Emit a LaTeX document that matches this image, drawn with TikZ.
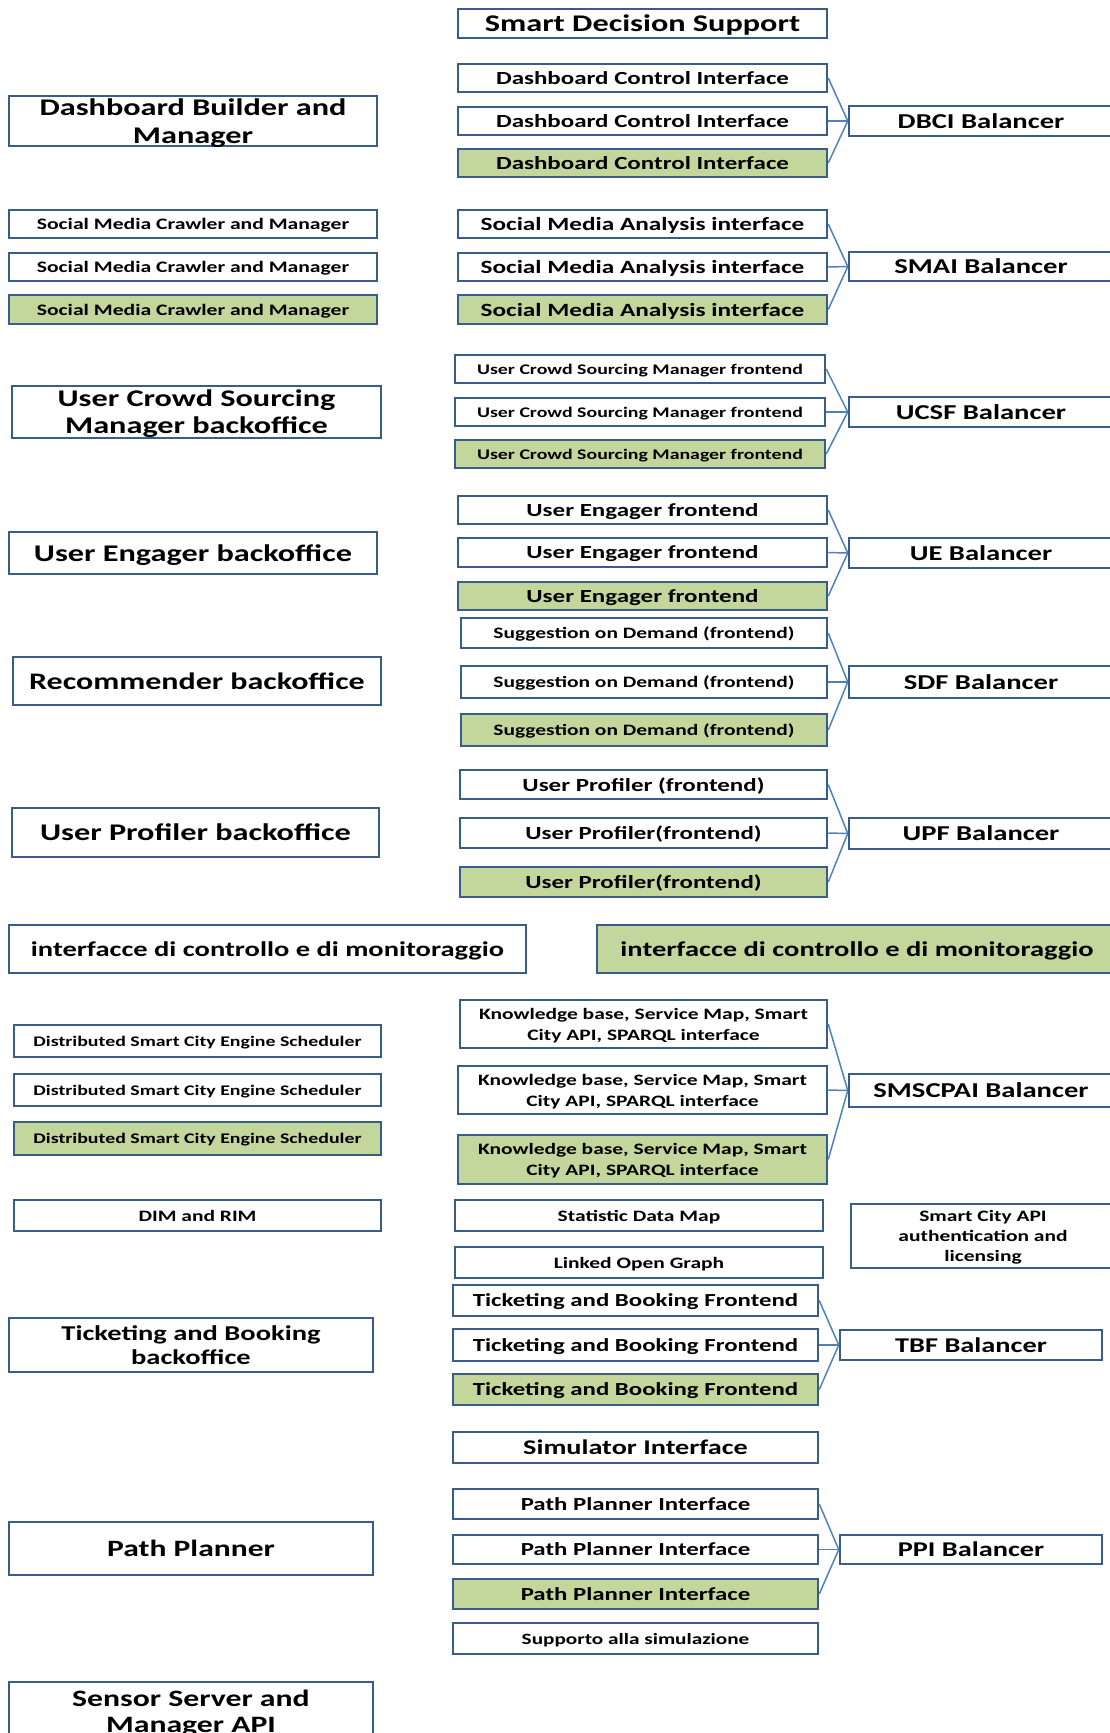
\documentclass[tikz,border=0pt]{standalone}
\usepackage{fontspec}
\setmainfont{Carlito}[FakeStretch=1.35]
\usetikzlibrary{positioning}
\definecolor{BoxBlue}{HTML}{385D8A}
\definecolor{LinkBlue}{HTML}{4F81BD}
\definecolor{OliveFill}{HTML}{C3D69B}
\newcommand{\Fs}[2]{\fontsize{#1pt}{#2pt}\selectfont\bfseries}
\begin{document}
\begin{tikzpicture}[
		x=1pt, y=-1pt,
		BoxStyle/.style={draw=BoxBlue, line width=2.5pt, fill=white, minimum width=369pt,
			minimum height=28pt, inner sep=0pt, align=center, text depth=0pt},
		GreenStyle/.style={BoxStyle, fill=OliveFill},
		BalStyle/.style={BoxStyle, minimum width=264pt, font=\Fs{21.2}{25}},
		LinkStyle/.style={draw=LinkBlue, line width=1.5pt}]
	\useasboundingbox (0,0) rectangle (1110,1733);
	% top block
	\node [BoxStyle, minimum height=29pt, font=\Fs{23.9}{27}] (sds) at (642.5,23.5) {Smart Decision Support};
	\node [BoxStyle, minimum height=50pt, minimum width=368pt, font=\Fs{23.9}{27.5}] (dbm) at (193,121) {Dashboard Builder and\\Manager};
	\node [BoxStyle, font=\Fs{18.5}{22}] (dci1) at (642.5,78) {Dashboard Control Interface};
	\node [BoxStyle, font=\Fs{18.5}{22}] (dci2) at (642.5,121) {Dashboard Control Interface};
	\node [GreenStyle, font=\Fs{18.5}{22}] (dci3) at (642.5,163) {Dashboard Control Interface};
	\node [BalStyle, minimum height=30pt] (dbci) at (981,121) {DBCI Balancer};
	% social media
	\node [BoxStyle, minimum width=368pt, font=\Fs{16}{19}] (smc1) at (193,224) {Social Media Crawler and Manager};
	\node [BoxStyle, minimum width=368pt, font=\Fs{16}{19}] (smc2) at (193,267) {Social Media Crawler and Manager};
	\node [GreenStyle, minimum width=368pt, minimum height=29pt, font=\Fs{16}{19}] (smc3) at (193,309.5) {Social Media Crawler and Manager};
	\node [BoxStyle, font=\Fs{18.7}{22}] (smai1) at (642.5,224) {Social Media Analysis interface};
	\node [BoxStyle, font=\Fs{18.7}{22}] (smai2) at (642.5,267) {Social Media Analysis interface};
	\node [GreenStyle, minimum height=29pt, font=\Fs{18.7}{22}] (smai3) at (642.5,309.5) {Social Media Analysis interface};
	\node [BalStyle, minimum height=29pt] (smaib) at (981,266.5) {SMAI Balancer};
	% crowd sourcing
	\node [BoxStyle, minimum width=369pt, minimum height=52pt, font=\Fs{23.9}{27}] (ucsmb) at (196.5,412) {User Crowd Sourcing\\Manager backoffice};
	\node [BoxStyle, minimum width=370pt, font=\Fs{14.7}{18}] (ucsm1) at (640,369) {User Crowd Sourcing Manager frontend};
	\node [BoxStyle, minimum width=370pt, font=\Fs{14.7}{18}] (ucsm2) at (640,412) {User Crowd Sourcing Manager frontend};
	\node [GreenStyle, minimum width=370pt, font=\Fs{14.7}{18}] (ucsm3) at (640,454) {User Crowd Sourcing Manager frontend};
	\node [BalStyle, minimum height=30pt] (ucsfb) at (981,412) {UCSF Balancer};
	% user engager
	\node [BoxStyle, minimum width=368pt, minimum height=42pt, font=\Fs{23.9}{27}] (ueb) at (193,553) {User Engager backoffice};
	\node [BoxStyle, font=\Fs{18.5}{22}] (ue1) at (642.5,510) {User Engager frontend};
	\node [BoxStyle, minimum height=29pt, font=\Fs{18.5}{22}] (ue2) at (642.5,552.5) {User Engager frontend};
	\node [GreenStyle, font=\Fs{18.5}{22}] (ue3) at (642.5,596) {User Engager frontend};
	\node [BalStyle, minimum height=30pt] (ueba) at (981,553) {UE Balancer};
	% recommender
	\node [BoxStyle, minimum width=368pt, minimum height=48pt, font=\Fs{23.7}{27}] (recb) at (197,681) {Recommender backoffice};
	\node [BoxStyle, minimum width=366pt, minimum height=30pt, font=\Fs{15.9}{19}] (sod1) at (644,633) {Suggestion on Demand (frontend)};
	\node [BoxStyle, minimum width=366pt, minimum height=32pt, font=\Fs{15.9}{19}] (sod2) at (644,682) {Suggestion on Demand (frontend)};
	\node [GreenStyle, minimum width=366pt, minimum height=32pt, font=\Fs{15.9}{19}] (sod3) at (644,730) {Suggestion on Demand (frontend)};
	\node [BalStyle, minimum height=32pt] (sdfb) at (981,682) {SDF Balancer};
	% user profiler
	\node [BoxStyle, minimum width=367pt, minimum height=49pt, font=\Fs{23.9}{27}] (upb) at (195.5,832.5) {User Profiler backoffice};
	\node [BoxStyle, minimum width=367pt, minimum height=29pt, font=\Fs{18.5}{22}] (up1) at (643.5,784.5) {User Profiler (frontend)};
	\node [BoxStyle, minimum width=367pt, minimum height=30pt, font=\Fs{18.5}{22}] (up2) at (643.5,833) {User Profiler(frontend)};
	\node [GreenStyle, minimum width=367pt, minimum height=30pt, font=\Fs{18.5}{22}] (up3) at (643.5,882) {User Profiler(frontend)};
	\node [BalStyle, minimum height=31pt] (upfb) at (981,833.5) {UPF Balancer};
	% monitoring
	\node [BoxStyle, minimum width=517pt, minimum height=48pt, font=\Fs{21.1}{25}] (ifw) at (267.5,949) {interfacce di controllo e di monitoraggio};
	\node [GreenStyle, minimum width=520pt, minimum height=48pt, font=\Fs{21.1}{25}] (ifg) at (857,949) {interfacce di controllo e di monitoraggio};
	% smart city engine
	\node [BoxStyle, minimum width=367pt, minimum height=32pt, font=\Fs{14.7}{18}] (dsc1) at (197.5,1041) {Distributed Smart City Engine Scheduler};
	\node [BoxStyle, minimum width=367pt, minimum height=32pt, font=\Fs{14.7}{18}] (dsc2) at (197.5,1090) {Distributed Smart City Engine Scheduler};
	\node [GreenStyle, minimum width=367pt, minimum height=33pt, font=\Fs{14.7}{18}] (dsc3) at (197.5,1138.5) {Distributed Smart City Engine Scheduler};
	\node [BoxStyle, minimum width=367pt, minimum height=48pt, font=\Fs{15.9}{21}] (kb1) at (643.5,1024) {Knowledge base, Service Map, Smart\\City API, SPARQL interface};
	\node [BoxStyle, minimum height=48pt, font=\Fs{15.9}{21}] (kb2) at (642.5,1090) {Knowledge base, Service Map, Smart\\City API, SPARQL interface};
	\node [GreenStyle, minimum height=49pt, font=\Fs{15.9}{21}] (kb3) at (642.5,1159.5) {Knowledge base, Service Map, Smart\\City API, SPARQL interface};
	\node [BalStyle, minimum height=33pt] (smsb) at (981,1090.5) {SMSCPAI Balancer};
	\node [BoxStyle, minimum width=367pt, minimum height=31pt, font=\Fs{15.9}{19}] (dim) at (197.5,1215.5) {DIM and RIM};
	\node [BoxStyle, minimum width=368pt, minimum height=31pt, font=\Fs{15.9}{19}] (sdm) at (639,1215.5) {Statistic Data Map};
	\node [BoxStyle, minimum width=368pt, minimum height=31pt, font=\Fs{15.9}{19}] (log) at (639,1262.5) {Linked Open Graph};
	\node [BoxStyle, minimum width=264pt, minimum height=64pt, font=\Fs{15.9}{20}] (scapi) at (983,1236) {Smart City API\\authentication and\\licensing};
	% ticketing
	\node [BoxStyle, minimum width=364pt, minimum height=54pt, font=\Fs{21.1}{24.3}] (tbb) at (191,1345) {Ticketing and Booking\\backoffice};
	\node [BoxStyle, minimum width=365pt, minimum height=31pt, font=\Fs{18.4}{22}] (tbf1) at (635.5,1300.5) {Ticketing and Booking Frontend};
	\node [BoxStyle, minimum width=365pt, minimum height=32pt, font=\Fs{18.4}{22}] (tbf2) at (635.5,1345) {Ticketing and Booking Frontend};
	\node [GreenStyle, minimum width=365pt, minimum height=31pt, font=\Fs{18.4}{22}] (tbf3) at (635.5,1389.5) {Ticketing and Booking Frontend};
	\node [BalStyle, minimum width=262pt, minimum height=30pt, font=\Fs{21}{25}] (tbfb) at (971,1345) {TBF Balancer};
	\node [BoxStyle, minimum width=365pt, minimum height=31pt, font=\Fs{20.9}{25}] (sim) at (635.5,1447.5) {Simulator Interface};
	% path planner
	\node [BoxStyle, minimum width=364pt, minimum height=53pt, font=\Fs{23.4}{27}] (pp) at (191,1548.5) {Path Planner};
	\node [BoxStyle, minimum width=365pt, minimum height=30pt, font=\Fs{18.4}{22}] (ppi1) at (635.5,1504) {Path Planner Interface};
	\node [BoxStyle, minimum width=365pt, minimum height=29pt, font=\Fs{18.4}{22}] (ppi2) at (635.5,1549.5) {Path Planner Interface};
	\node [GreenStyle, minimum width=365pt, minimum height=30pt, font=\Fs{18.4}{22}] (ppi3) at (635.5,1594) {Path Planner Interface};
	\node [BalStyle, minimum width=262pt, minimum height=29pt, font=\Fs{21}{25}] (ppib) at (971,1549.5) {PPI Balancer};
	\node [BoxStyle, minimum width=365pt, minimum height=31pt, font=\Fs{15.7}{19}] (sup) at (635.5,1638.5) {Supporto alla simulazione};
	\node [BoxStyle, minimum width=364pt, minimum height=58pt, font=\Fs{23.5}{26.5}] (ssm) at (191,1711) {Sensor Server and\\Manager API};
	% balancer links
	\begin{scope}[LinkStyle]
		\draw (dci1.east) -- (dbci.west);
		\draw (dci2.east) -- (dbci.west);
		\draw (dci3.east) -- (dbci.west);
		\draw (smai1.east) -- (smaib.west);
		\draw (smai2.east) -- (smaib.west);
		\draw (smai3.east) -- (smaib.west);
		\draw (ucsm1.east) -- (ucsfb.west);
		\draw (ucsm2.east) -- (ucsfb.west);
		\draw (ucsm3.east) -- (ucsfb.west);
		\draw (ue1.east) -- (ueba.west);
		\draw (ue2.east) -- (ueba.west);
		\draw (ue3.east) -- (ueba.west);
		\draw (sod1.east) -- (sdfb.west);
		\draw (sod2.east) -- (sdfb.west);
		\draw (sod3.east) -- (sdfb.west);
		\draw (up1.east) -- (upfb.west);
		\draw (up2.east) -- (upfb.west);
		\draw (up3.east) -- (upfb.west);
		\draw (kb1.east) -- (smsb.west);
		\draw (kb2.east) -- (smsb.west);
		\draw (kb3.east) -- (smsb.west);
		\draw (tbf1.east) -- (tbfb.west);
		\draw (tbf2.east) -- (tbfb.west);
		\draw (tbf3.east) -- (tbfb.west);
		\draw (ppi1.east) -- (ppib.west);
		\draw (ppi2.east) -- (ppib.west);
		\draw (ppi3.east) -- (ppib.west);
	\end{scope}
\end{tikzpicture}
\end{document}
